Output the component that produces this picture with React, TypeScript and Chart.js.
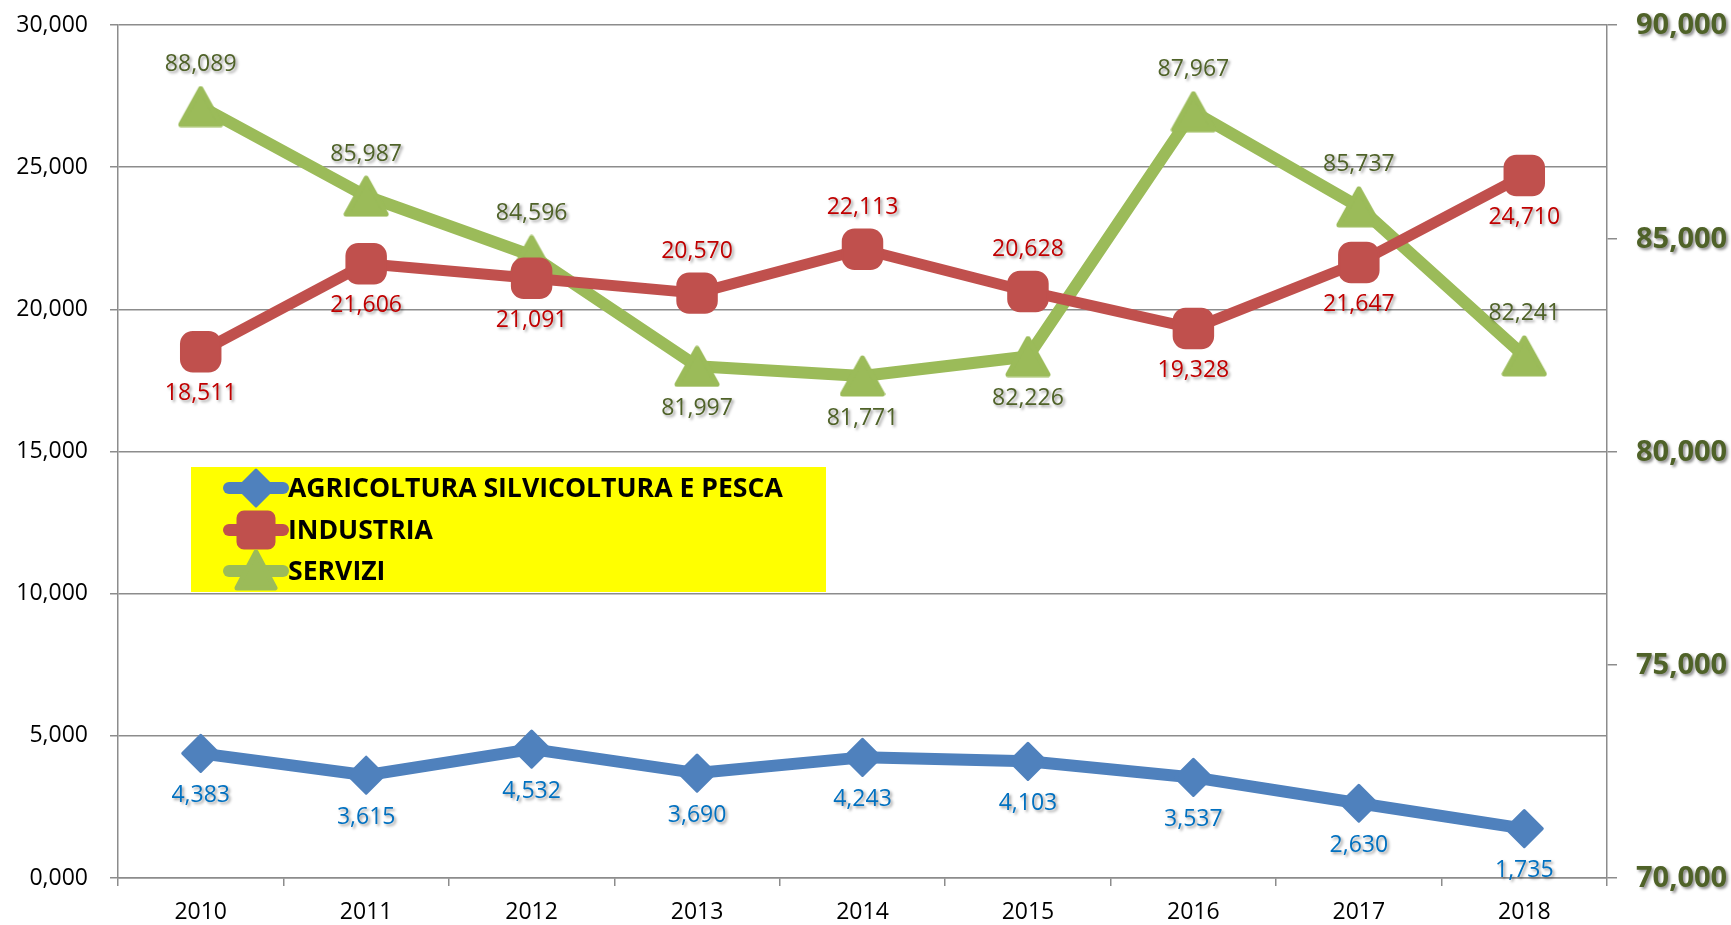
import React, { useEffect, useRef } from 'react';
import { Chart, registerables } from 'chart.js';

Chart.register(...registerables);

const FONT = '"Open Sans", "DejaVu Sans", sans-serif';

const years = ['2010', '2011', '2012', '2013', '2014', '2015', '2016', '2017', '2018'];
const agricoltura = [4383, 3615, 4532, 3690, 4243, 4103, 3537, 2630, 1735];
const industria = [18511, 21606, 21091, 20570, 22113, 20628, 19328, 21647, 24710];
const servizi = [88089, 85987, 84596, 81997, 81771, 82226, 87967, 85737, 82241];

const agriLabelPos = ['below', 'below', 'below', 'below', 'below', 'below', 'below', 'below', 'below'];
const indLabelPos = ['below', 'below', 'below', 'above', 'above', 'above', 'below', 'below', 'below'];
const serLabelPos = ['above', 'above', 'above', 'below', 'below', 'below', 'above', 'above', 'above'];

const leftTickValues = [0, 5000, 10000, 15000, 20000, 25000, 30000];
const rightTickValues = [70000, 75000, 80000, 85000, 90000];

const seriesNames = ['AGRICOLTURA SILVICOLTURA E PESCA', 'INDUSTRIA', 'SERVIZI'];

const BLUE = '#4F81BD';
const RED = '#C0504D';
const GREEN = '#9BBB59';
const BLUE_TXT = '#0070C0';
const RED_TXT = '#C00000';
const GREEN_TXT = '#4F6228';
const GRID = '#8C8C8C';

const fmt = (v: number) => v.toLocaleString('en-US');

function makeTriangle(color: string): HTMLCanvasElement {
  const c = document.createElement('canvas');
  c.width = 46;
  c.height = 42;
  const g = c.getContext('2d') as CanvasRenderingContext2D;
  g.fillStyle = color;
  g.strokeStyle = color;
  g.lineJoin = 'round';
  g.lineWidth = 5;
  g.beginPath();
  g.moveTo(23, 3);
  g.lineTo(43, 39);
  g.lineTo(3, 39);
  g.closePath();
  g.fill();
  g.stroke();
  return c;
}

function drawMarker(ctx: CanvasRenderingContext2D, kind: string, cx: number, cy: number, color: string) {
  ctx.save();
  ctx.fillStyle = color;
  ctx.strokeStyle = color;
  ctx.lineJoin = 'round';
  ctx.lineWidth = 3;
  ctx.beginPath();
  if (kind === 'diamond') {
    const r = 18;
    ctx.moveTo(cx, cy - r);
    ctx.lineTo(cx + r, cy);
    ctx.lineTo(cx, cy + r);
    ctx.lineTo(cx - r, cy);
    ctx.closePath();
  } else if (kind === 'square') {
    const h = 18;
    const rr = 6;
    ctx.moveTo(cx - h + rr, cy - h);
    ctx.arcTo(cx + h, cy - h, cx + h, cy + h, rr);
    ctx.arcTo(cx + h, cy + h, cx - h, cy + h, rr);
    ctx.arcTo(cx - h, cy + h, cx - h, cy - h, rr);
    ctx.arcTo(cx - h, cy - h, cx + h, cy - h, rr);
    ctx.closePath();
  } else {
    ctx.moveTo(cx, cy - 19);
    ctx.lineTo(cx + 19, cy + 17);
    ctx.lineTo(cx - 19, cy + 17);
    ctx.closePath();
    ctx.lineWidth = 5;
  }
  ctx.fill();
  ctx.stroke();
  ctx.restore();
}

const roundJoinPlugin = {
  id: 'roundJoin',
  beforeDatasetsDraw(chart: any) {
    chart.ctx.lineJoin = 'round';
  },
};

const legendPlugin = {
  id: 'yellowLegend',
  afterDatasetsDraw(chart: any) {
    const ctx: CanvasRenderingContext2D = chart.ctx;
    const a = chart.chartArea;
    const bx = a.left + 73;
    const by = a.top + 442;
    const bw = 635;
    const bh = 125;
    ctx.save();
    ctx.fillStyle = '#FFFF00';
    ctx.fillRect(bx, by, bw, bh);
    const colors = [BLUE, RED, GREEN];
    const kinds = ['diamond', 'square', 'triangle'];
    const rows = [21, 63, 104];
    seriesNames.forEach((name, i) => {
      const cy = by + rows[i];
      ctx.save();
      ctx.strokeStyle = colors[i];
      ctx.lineWidth = 12;
      ctx.lineCap = 'round';
      ctx.beginPath();
      ctx.moveTo(bx + 38, cy);
      ctx.lineTo(bx + 92, cy);
      ctx.stroke();
      ctx.restore();
      drawMarker(ctx, kinds[i], bx + 65, cy, colors[i]);
      ctx.fillStyle = '#000000';
      ctx.font = `bold 26.6px ${FONT}`;
      ctx.textAlign = 'left';
      ctx.textBaseline = 'middle';
      ctx.fillText(name, bx + 97, cy + 1);
    });
    ctx.restore();
  },
};

const labelsPlugin = {
  id: 'valueLabels',
  afterDatasetsDraw(chart: any) {
    const ctx: CanvasRenderingContext2D = chart.ctx;
    const positions = [agriLabelPos, indLabelPos, serLabelPos];
    const colors = [BLUE_TXT, RED_TXT, GREEN_TXT];
    chart.data.datasets.forEach((ds: any, i: number) => {
      const meta = chart.getDatasetMeta(i);
      meta.data.forEach((pt: any, j: number) => {
        const v = ds.data[j] as number;
        const dy = positions[i][j] === 'above' ? -42 : 42;
        ctx.save();
        ctx.font = `23px ${FONT}`;
        ctx.fillStyle = colors[i];
        ctx.textAlign = 'center';
        ctx.textBaseline = 'middle';
        ctx.shadowColor = 'rgba(0,0,0,0.4)';
        ctx.shadowOffsetX = 2;
        ctx.shadowOffsetY = 2;
        ctx.shadowBlur = 3;
        ctx.fillText(fmt(v), pt.x, pt.y + dy);
        ctx.restore();
      });
    });
  },
};

const rightLabelsPlugin = {
  id: 'rightLabels',
  afterDraw(chart: any) {
    const ctx: CanvasRenderingContext2D = chart.ctx;
    const s = chart.scales.y1;
    ctx.save();
    ctx.font = `bold 29px ${FONT}`;
    ctx.fillStyle = GREEN_TXT;
    ctx.textAlign = 'left';
    ctx.textBaseline = 'middle';
    ctx.shadowColor = 'rgba(0,0,0,0.45)';
    ctx.shadowOffsetX = 2;
    ctx.shadowOffsetY = 2;
    ctx.shadowBlur = 3;
    rightTickValues.forEach((v) => {
      ctx.fillText(fmt(v), s.left + 29, s.getPixelForValue(v) + 1);
    });
    ctx.restore();
  },
};

export default function App() {
  const ref = useRef<HTMLCanvasElement | null>(null);
  useEffect(() => {
    if (!ref.current) return;
    const triangle = makeTriangle(GREEN);
    const chart = new Chart(ref.current, {
      type: 'line',
      data: {
        labels: years,
        datasets: [
          {
            label: seriesNames[0],
            data: agricoltura,
            yAxisID: 'y',
            borderColor: BLUE,
            backgroundColor: BLUE,
            borderWidth: 12,
            borderJoinStyle: 'round',
            borderCapStyle: 'round',
            pointStyle: 'rectRot',
            pointRadius: 18,
            pointBorderWidth: 3,
            pointBackgroundColor: BLUE,
            pointBorderColor: BLUE,
            tension: 0,
          },
          {
            label: seriesNames[1],
            data: industria,
            yAxisID: 'y',
            borderColor: RED,
            backgroundColor: RED,
            borderWidth: 11,
            borderJoinStyle: 'round',
            borderCapStyle: 'round',
            pointStyle: 'rectRounded',
            pointRadius: 23,
            pointBorderWidth: 2,
            pointBackgroundColor: RED,
            pointBorderColor: RED,
            tension: 0,
          },
          {
            label: seriesNames[2],
            data: servizi,
            yAxisID: 'y1',
            borderColor: GREEN,
            backgroundColor: GREEN,
            borderWidth: 12,
            borderJoinStyle: 'round',
            borderCapStyle: 'round',
            pointStyle: triangle,
            pointRadius: 23,
            pointBorderWidth: 0,
            pointBackgroundColor: GREEN,
            pointBorderColor: GREEN,
            tension: 0,
          },
        ],
      },
      options: {
        responsive: false,
        animation: false,
        events: [],
        layout: { padding: { top: 24, left: 0, right: 0, bottom: 0 } },
        plugins: {
          legend: { display: false },
          tooltip: { enabled: false },
        },
        scales: {
          x: {
            type: 'category',
            offset: true,
            grid: { drawOnChartArea: false, offset: true, color: GRID, lineWidth: 1.5, tickLength: 8 },
            border: { color: GRID, width: 1.5 },
            ticks: { color: '#000', font: { family: FONT, size: 23 }, padding: 13, maxRotation: 0 },
            afterFit: (s: any) => { s.height = 47; s.paddingLeft = 0; s.paddingRight = 0; },
          },
          y: {
            position: 'left',
            min: 0,
            max: 30000,
            afterBuildTicks: (s: any) => { s.ticks = leftTickValues.map((v) => ({ value: v })); },
            grid: { color: GRID, lineWidth: 1.5, tickLength: 8 },
            border: { color: GRID, width: 1.5 },
            ticks: {
              color: '#000',
              font: { family: FONT, size: 23 },
              padding: 22,
              callback: (v: any) => (Number(v) === 0 ? '0,000' : fmt(Number(v))),
            },
            afterFit: (s: any) => { s.width = 118; s.paddingTop = 0; s.paddingBottom = 0; },
          },
          y1: {
            position: 'right',
            min: 70000,
            max: 90000,
            afterBuildTicks: (s: any) => { s.ticks = rightTickValues.map((v) => ({ value: v })); },
            grid: { drawOnChartArea: false, color: GRID, lineWidth: 1.5, tickLength: 10 },
            border: { color: GRID, width: 1.5 },
            ticks: { color: 'rgba(0,0,0,0)', font: { family: FONT, size: 12 }, padding: 20 },
            afterFit: (s: any) => { s.width = 124; s.paddingTop = 0; s.paddingBottom = 0; },
          },
        },
      },
      plugins: [roundJoinPlugin, legendPlugin, labelsPlugin, rightLabelsPlugin],
    } as any);
    return () => chart.destroy();
  }, []);
  return (
    <div style={{ position: 'absolute', left: 0, top: 0, width: 1731, height: 925, background: '#fff' }}>
      <canvas ref={ref} width={1731} height={925} style={{ display: 'block', width: 1731, height: 925 }} />
    </div>
  );
}
